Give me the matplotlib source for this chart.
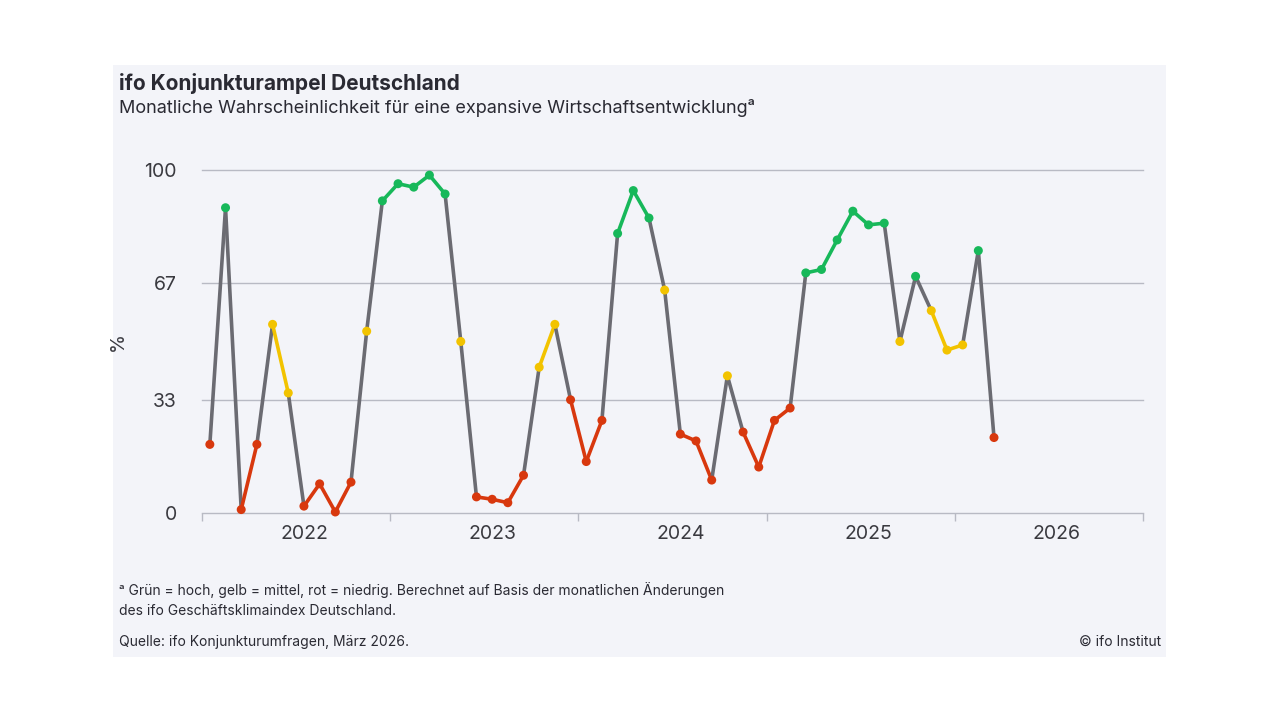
import matplotlib.pyplot as plt
from matplotlib.patches import Rectangle

plt.rcParams['font.family'] = ['Inter', 'DejaVu Sans']

# monthly probability, Jan 2022 .. Mar 2026
values = [20, 89, 1, 20, 55, 35, 2, 8.5, 0.3, 9, 53, 91,
          96, 95, 98.5, 93, 50, 4.7, 4, 3, 11, 42.5, 55, 33,
          15, 27, 81.5, 94, 86, 65, 23, 21, 9.6, 40, 23.6, 13.4,
          27, 30.6, 70, 71, 79.6, 88, 84, 84.5, 50, 69, 59, 47.5,
          49, 76.5, 22]
# g = hoch, y = mittel, r = niedrig
levels = ["r", "g", "r", "r", "y", "y", "r", "r", "r", "r", "y", "g",
          "g", "g", "g", "g", "y", "r", "r", "r", "r", "y", "y", "r",
          "r", "r", "g", "g", "g", "y", "r", "r", "r", "y", "r", "r",
          "r", "r", "g", "g", "g", "g", "g", "g", "y", "g", "y", "y",
          "y", "g", "r"]
years = ["2022", "2023", "2024", "2025", "2026"]
yticks = [0, 33, 67, 100]

colors = {"g": "#17b85a", "y": "#f2c300", "r": "#d8380e"}
grey = "#6b6b72"
bg = "#f3f4f9"

fig = plt.figure(figsize=(12.8, 7.2), dpi=100)
fig.patch.set_facecolor("white")
fig.patches.append(Rectangle((113 / 1280, 1 - 657 / 720), 1053 / 1280, 592 / 720,
                             transform=fig.transFigure, facecolor=bg, edgecolor="none", zorder=-10))

ax = fig.add_axes([202 / 1280, 1 - 513 / 720, 941 / 1280, 343 / 720])
ax.set_facecolor(bg)
ax.set_xlim(-0.5, 59.5)
ax.set_ylim(0, 100)

x = list(range(len(values)))
for i in range(len(values) - 1):
    c = colors[levels[i]] if levels[i] == levels[i + 1] else grey
    ax.plot(x[i:i + 2], values[i:i + 2], color=c, lw=2.6, solid_capstyle="round", zorder=2,
            clip_on=False)
ax.scatter(x, values, c=[colors[l] for l in levels], s=42, zorder=3, linewidths=0, clip_on=False)

for t in yticks:
    ax.axhline(t, color="#b8bac4", lw=1, zorder=1, clip_on=False)
for s in ax.spines.values():
    s.set_visible(False)
ax.set_yticks(yticks)
ax.set_yticklabels([str(t) for t in yticks], fontsize=14, color="#3a3a40")
ax.tick_params(axis="y", length=0, pad=18)
ax.set_xticks([-0.5 + 12 * k for k in range(6)])
ax.set_xticklabels([])
ax.tick_params(axis="x", length=6, color="#b8bac4", width=1)
for k, yr in enumerate(years):
    ax.text(6 + 12 * k, -3.5, yr, ha="center", va="top", fontsize=14, color="#3a3a40")
ax.set_ylabel("%", fontsize=14, color="#3a3a40", labelpad=2)
ax.yaxis.set_label_coords(-75 / 941, 0.5)

fig.text(119 / 1280, 1 - 83 / 720, "ifo Konjunkturampel Deutschland", fontsize=15,
         fontweight="bold", color="#2a2a33", va="center")
fig.text(119 / 1280, 1 - 108 / 720,
         "Monatliche Wahrscheinlichkeit für eine expansive Wirtschaftsentwicklung\u1d43",
         fontsize=13, color="#2a2a33", va="center")
fig.text(119 / 1280, 1 - 600 / 720,
         "\u1d43 Grün = hoch, gelb = mittel, rot = niedrig. Berechnet auf Basis der monatlichen Änderungen\n"
         "des ifo Geschäftsklimaindex Deutschland.",
         fontsize=10, color="#2a2a33", va="center", linespacing=1.5)
fig.text(119 / 1280, 1 - 642 / 720, "Quelle: ifo Konjunkturumfragen, März 2026.",
         fontsize=10, color="#2a2a33", va="center")
fig.text(1161 / 1280, 1 - 642 / 720, "© ifo Institut", fontsize=10, color="#2a2a33",
         va="center", ha="right")

fig.savefig("out.png", dpi=100, facecolor="white")
